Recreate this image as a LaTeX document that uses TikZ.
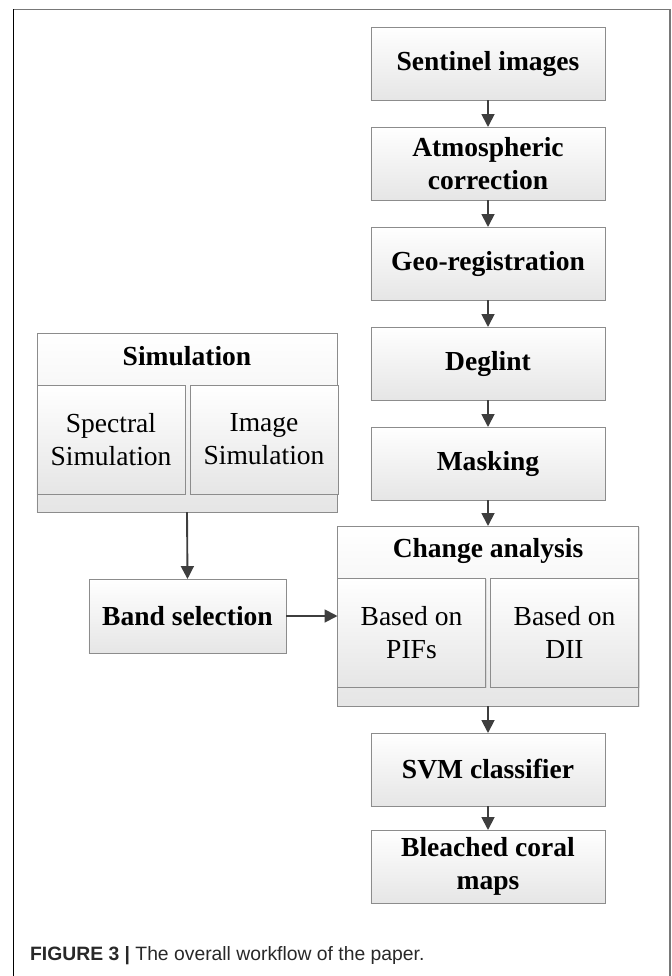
\documentclass[tikz,border=0pt]{standalone}
\usepackage{fontspec}
\setmainfont{Liberation Serif}
\newfontfamily\capfont{Liberation Sans}
\usetikzlibrary{arrows.meta}
\usetikzlibrary{shadows}
\tikzset{>={Triangle[length=11pt,width=11pt]}}
\definecolor{boxline}{RGB}{140,140,140}
\definecolor{flowgray}{RGB}{62,62,62}
\definecolor{framegray}{RGB}{120,120,120}
\definecolor{captext}{RGB}{40,40,40}
\tikzset{
  stepbox/.style={draw=boxline, line width=0.8pt, top color=white, bottom color=black!10,
    drop shadow={opacity=0.18,shadow xshift=1.2pt,shadow yshift=-1.2pt},
    inner sep=0pt, outer sep=0pt, align=center,
    font=\fontsize{23.5}{28}\selectfont\bfseries},
  subbox/.style={stepbox, font=\fontsize{23.5}{28}\selectfont,
    minimum width=4.44cm, minimum height=3.27cm},
  flow/.style={->, draw=flowgray, fill=flowgray, line width=1.6pt}
}

\begin{document}
\begin{tikzpicture}[x=0.03cm, y=-0.03cm]
  \useasboundingbox (0,0) rectangle (672,976);
  % page frame
  \draw [framegray, line width=0.6pt] (13,9) -- (670,9);
  \draw [framegray, line width=2pt] (670,9) -- (670,976);
  \draw [black, line width=0.8pt] (13,9) -- (13,976);

  % main column
  \foreach \n/\t/\y in {sentinel/Sentinel images/63.5, atmos/{Atmospheric\\correction}/163.5,
      georeg/Geo-registration/263.5, deglint/Deglint/363.5, masking/Masking/463.5,
      svm/SVM classifier/769.5, bleached/{Bleached coral\\maps}/866.5}{
    \node [stepbox, minimum width=7.02cm, minimum height=2.19cm] (\n) at (488,\y) {\t};
  }

  % change analysis group
  \node [stepbox, minimum width=9.03cm, minimum height=5.4cm] (change) at (488,616) {};
  \node [font=\fontsize{23.5}{28}\selectfont\bfseries] (changetitle) at (488,551) {Change analysis};
  \node [subbox] (pifs) at (411.5,632.5) {Based on\\PIFs};
  \node [subbox] (dii) at (564.5,632.5) {Based on\\DII};

  % simulation group
  \node [stepbox, minimum width=9cm, minimum height=5.37cm] (simul) at (187,422.5) {};
  \node [font=\fontsize{23.5}{28}\selectfont\bfseries] (simultitle) at (187,356) {Simulation};
  \node [subbox] (spectral) at (111,439.5) {Spectral\\Simulation};
  \node [subbox] (imagesim) at (264,439.5) {Image\\Simulation};

  \node [stepbox, minimum width=5.91cm, minimum height=2.22cm] (band) at (187.5,616) {Band selection};

  \foreach \a/\b in {sentinel/atmos, atmos/georeg, georeg/deglint, deglint/masking,
      masking/change, change/svm, svm/bleached, simul/band}{
    \draw [flow] (\a.south) -- (\b.north);
  }
  \draw [flow] (band.east) -- (change.west |- band.east);

  \node [anchor=west, text=captext, font=\capfont\fontsize{16.5}{19}\selectfont] (caption) at (26,956)
    {\textbf{FIGURE 3} \textbf{|} The overall workflow of the paper.};
\end{tikzpicture}
\end{document}
